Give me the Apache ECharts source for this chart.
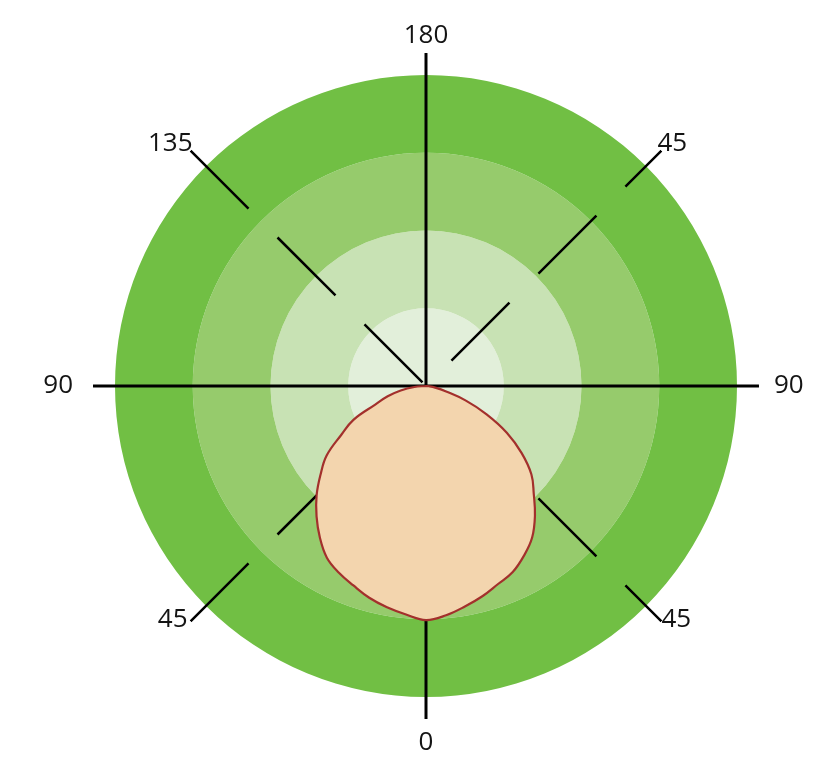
<!DOCTYPE html>
<html>
<head>
<meta charset="utf-8">
<script src="https://cdn.jsdelivr.net/npm/echarts@6/dist/echarts.min.js"></script>
<style>
html,body{margin:0;padding:0;background:#fff;}
#chart{width:830px;height:775px;}
</style>
</head>
<body>
<div id="chart"></div>
<script>
// Angle ticks (0 at the bottom, clockwise) and their printed labels
const angleTickValues = [0, 45, 90, 135, 180, 225, 270, 315];
const angleTickLabels = ['0', '45', '90', '135', '180', '45', '90', '45'];

// Ring values of the radial scale
const ringValues = [100, 200, 300, 400];
const radiusMax = 428.3;

// Gamma angles (degrees from nadir) and intensity on each side
const gammaAngles = [0, 5, 10, 15, 20, 25, 30, 35, 40, 45, 50, 55, 60, 65, 70, 75, 80, 85, 90];
const leftValues  = [301, 295, 289, 282, 273, 265, 255, 238, 219, 199, 177, 156, 126, 103, 69, 51, 33, 15, 0];
const rightValues = [301, 296, 288, 280, 271, 264, 252, 238, 218, 196, 177, 150, 120, 86, 54, 26, 12, 4, 0];

// Build closed outline: left side from 90 down to 0, then right side from 0 up to 90
const outline = [];
for (let i = gammaAngles.length - 1; i >= 0; i--) outline.push([leftValues[i], gammaAngles[i]]);
for (let i = 1; i < gammaAngles.length; i++) outline.push([rightValues[i], 360 - gammaAngles[i]]);

const chart = echarts.init(document.getElementById('chart'), null, {renderer: 'canvas'});

function lbl(v) {
  const a = ((v % 360) + 360) % 360;
  const i = angleTickValues.indexOf(a);
  const t = i >= 0 ? angleTickLabels[i] : '';
  if (a === 90 || a === 270) return '{h|' + t + '}';
  if (a === 180) return '{vt|' + t + '}';
  if (a === 0) return '{vb|' + t + '}';
  if (a === 135 || a === 225) return '{du|' + t + '}';
  return '{dl|' + t + '}';
}

const txt = { fontFamily: 'Open Sans', fontSize: 26, color: '#141414' };

const option = {
  animation: false,
  polar: { center: [426, 386], radius: 333 },
  angleAxis: {
    type: 'value', min: 0, max: 360, interval: 45,
    startAngle: 270, clockwise: true,
    axisLine: { show: false },
    axisTick: { show: false },
    splitLine: { show: false },
    axisLabel: {
      margin: -10,
      formatter: lbl,
      color: '#141414',
      fontFamily: 'Open Sans',
      fontSize: 26,
      rich: {
        h: Object.assign({}, txt, { lineHeight: 28, padding: [0, 30, 0, 25] }),
        vt: Object.assign({}, txt, { lineHeight: 55 }),
        vb: Object.assign({}, txt, { lineHeight: 68 }),
        du: Object.assign({}, txt, { lineHeight: 28, padding: [0, 5, 1, 3] }),
        dl: Object.assign({}, txt, { lineHeight: 11, padding: [0, 10, 0, 7] })
      }
    }
  },
  radiusAxis: {
    type: 'value', min: 0, max: radiusMax, interval: ringValues[1] - ringValues[0],
    axisLine: { show: false },
    axisTick: { show: false },
    axisLabel: { show: false },
    splitLine: { show: false },
    splitArea: { show: true, areaStyle: { color: ['#e2efda', '#c8e2b4', '#96cb6c', '#71bf44', 'rgba(255,255,255,0)'] } }
  },
  series: [
    {
      type: 'line', coordinateSystem: 'polar', symbol: 'none', silent: true, z: 2,
      lineStyle: { color: '#000', width: 3 },
      data: [[radiusMax, 0], [0, 0], [radiusMax, 180]]
    },
    {
      type: 'line', coordinateSystem: 'polar', symbol: 'none', silent: true, z: 2,
      lineStyle: { color: '#000', width: 3 },
      data: [[radiusMax, 90], [0, 90], [radiusMax, 270]]
    },
    {
      type: 'line', coordinateSystem: 'polar', symbol: 'none', silent: true, z: 2,
      lineStyle: { color: '#000', width: 2.5, type: [82, 41] },
      data: [[radiusMax, 135], [0, 135], [radiusMax, 315]]
    },
    {
      type: 'line', coordinateSystem: 'polar', symbol: 'none', silent: true, z: 2,
      lineStyle: { color: '#000', width: 2.5, type: [82, 41] },
      data: [[radiusMax, 45], [0, 45], [radiusMax, 225]]
    },
    {
      type: 'custom', coordinateSystem: 'polar', silent: true, z: 5,
      data: [[0, 0]],
      renderItem: function (params, api) {
        const pts = outline.map(function (p) { return api.coord(p); });
        return {
          type: 'polygon',
          shape: { points: pts, smooth: 0.4 },
          style: { fill: '#f3d5ae', stroke: '#a3302c', lineWidth: 2.2 }
        };
      }
    }
  ]
};
chart.setOption(option);
</script>
</body>
</html>
